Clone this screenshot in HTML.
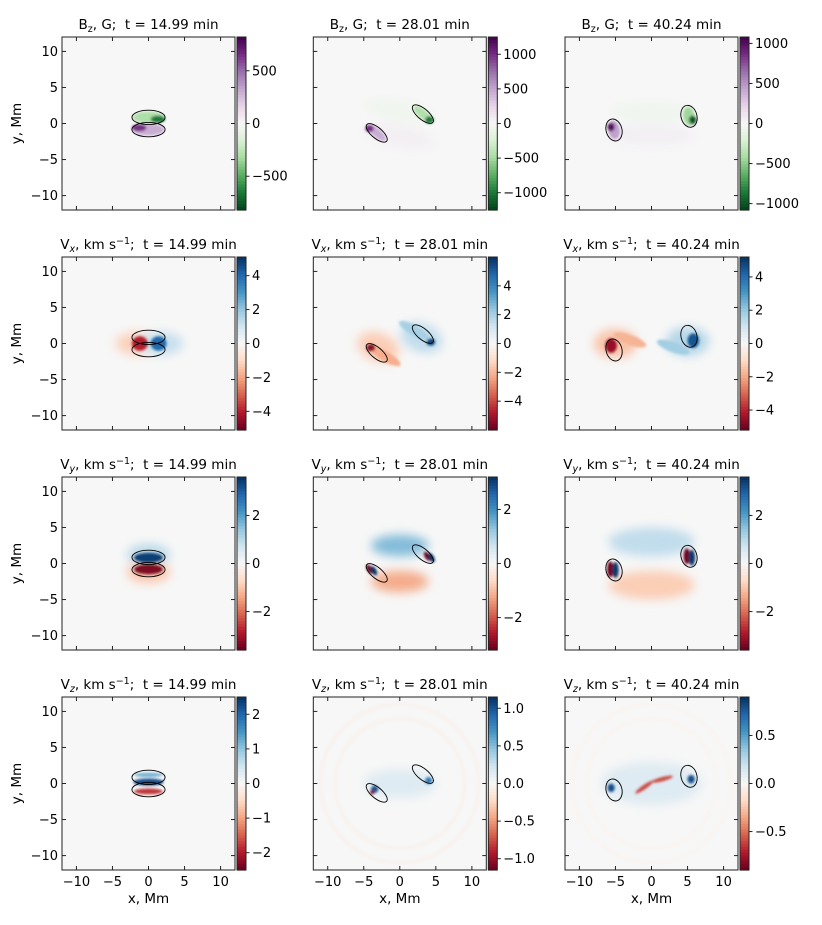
<!DOCTYPE html>
<html><head><meta charset="utf-8"><style>
html,body{margin:0;padding:0;background:#fff}
svg{display:block;font-family:"DejaVu Sans","Liberation Sans",sans-serif}
text{white-space:pre}
</style></head><body>
<svg id="fig" width="822" height="925" viewBox="0 0 822 925" xmlns="http://www.w3.org/2000/svg">
<defs>
<filter id="blurBig" x="-50%" y="-50%" width="200%" height="200%"><feGaussianBlur stdDeviation="5"/></filter>
<filter id="blurSmall" x="-50%" y="-50%" width="200%" height="200%"><feGaussianBlur stdDeviation="1.3"/></filter>
</defs>
</svg>
<script>
// ---- data ----
const colLefts=[62,313.3,565];
const rowTops=[37,257,477,697];
const times=["14.99","28.01","40.24"];
const rowVars=["Bz","Vx","Vy","Vz"];
const axisTicks=[-10,-5,0,5,10];
const cbarRanges=[[820,1250,1080],[5.1,6.0,5.2],[3.6,3.2,3.6],[2.5,1.15,0.9]];
const cbarTicks=[
 [[500,0,-500],[1000,500,0,-500,-1000],[1000,500,0,-500,-1000]],
 [[4,2,0,-2,-4],[4,2,0,-2,-4],[4,2,0,-2,-4]],
 [[2,0,-2],[2,0,-2],[2,0,-2]],
 [[2,1,0,-1,-2],[1.0,0.5,0.0,-0.5,-1.0],[0.5,0.0,-0.5]]];
const cbarTickLabels=[
 [["500","0","\u2212500"],["1000","500","0","\u2212500","\u22121000"],["1000","500","0","\u2212500","\u22121000"]],
 [["4","2","0","\u22122","\u22124"],["4","2","0","\u22122","\u22124"],["4","2","0","\u22122","\u22124"]],
 [["2","0","\u22122"],["2","0","\u22122"],["2","0","\u22122"]],
 [["2","1","0","\u22121","\u22122"],["1.0","0.5","0.0","\u22120.5","\u22121.0"],["0.5","0.0","\u22120.5"]]];
// blobs: [x, y, rx, ry, rotDeg, value] in data units
const blobs=[
 [[[0,0.85,2.2,0.8,0,-300],[1.3,0.6,1.0,0.5,0,-650],[0,-0.85,2.2,0.8,0,300],[-1.3,-0.6,1.0,0.5,0,650]],
  [[0,1.8,5,1.5,-10,-60],[0,-1.8,5,1.5,-10,60],[3.2,1.3,1.6,0.6,-40,-450],[4.1,0.5,0.6,0.5,0,-1000],[-3.2,-1.3,1.6,0.6,-40,450],[-4.2,-0.7,0.6,0.5,0,1000]],
  [[0,1.6,6,1.5,0,-50],[0,-1.6,6,1.5,0,50],[5.2,1.0,0.8,1.3,10,-450],[5.7,0.5,0.5,0.6,0,-1000],[-5.2,-0.9,0.8,1.3,10,450],[-5.6,-0.5,0.5,0.6,0,1000]]],
 [[[-1.6,0,3,1.6,0,-1.2],[1.8,0,3,1.6,0,1.2],[-1.2,0,1.1,1.0,0,-4],[1.4,0,1.1,1.0,0,4]],
  [[-3,-0.5,3,2,-20,-1.5],[3,0.8,3,2,-20,1.5],[-2,-1.8,2.4,0.7,-30,-2.2],[2,1.8,2.4,0.7,-30,2.0],[-4,-0.6,0.6,0.5,0,-5.5],[4.3,0.2,0.6,0.5,0,5.5]],
  [[-5,0,3,2,0,-1.5],[5,0.3,3,2,0,1.5],[-3,0.5,2.4,0.7,-20,-1.8],[3,-0.5,2.4,0.7,-20,1.8],[-5.6,-0.3,0.8,1,0,-4.5],[5.8,0.4,0.8,1,0,4.5]]],
 [[[0,1.2,3,1.5,0,1],[0,-1.2,3,1.5,0,-1],[0,0.8,2.0,0.7,0,3.4],[0,-0.8,2.0,0.7,0,-3.4]],
  [[0,2.5,4,1.5,0,1.4],[0,-2.5,4,1.5,0,-1.2],[-4.2,-0.8,0.35,0.7,30,-3.5],[-3.6,-1.0,0.35,0.7,30,3.5],[3.8,1,0.35,0.7,30,-3.5],[4.4,0.8,0.35,0.7,30,3.5]],
  [[0,3,6,2,0,0.9],[0,-3,6,2,0,-0.9],[-5.7,-0.8,0.45,1.1,0,-3.5],[-5.0,-0.9,0.45,1.1,0,3.5],[4.9,1,0.45,1.1,0,-3.5],[5.6,0.8,0.45,1.1,0,3.5]]],
 [[[0,0.2,2.1,0.5,0,2.2],[0,-1.1,2.0,0.4,0,-1.8],[0,1.2,2,0.3,0,1.2]],
  [[0,0,5,2,0,0.15],[-3.5,-0.8,0.5,0.5,0,1.0],[4,0.4,0.5,0.5,0,0.8],[-3.8,-1.2,0.3,0.3,0,-1.1]],
  [[0,0,7,3,0,0.12],[-5.6,-0.6,0.5,0.6,0,0.8],[5.5,0.6,0.5,0.6,0,0.8],[-1,-0.5,1.5,0.3,35,-0.6],[1.5,0.6,1.5,0.3,15,-0.6]]]];
// contours per column: [x, y, rx, ry, rotDeg]
const contours=[
 [[0,0.85,2.3,1.0,0],[0,-0.85,2.3,1.0,0]],
 [[3.2,1.3,1.8,0.75,-40],[-3.2,-1.3,1.8,0.75,-40]],
 [[5.2,1.0,1.1,1.55,15],[-5.2,-0.9,1.1,1.55,15]]];

const RdBu=["#67001f","#b2182b","#d6604d","#f4a582","#fddbc7","#f7f7f7","#d1e5f0","#92c5de","#4393c3","#2166ac","#053061"];
const PRGn_r=["#00441b","#1b7837","#5aae61","#a6dba0","#d9f0d3","#f7f7f7","#e7d4e8","#c2a5cf","#9970ab","#762a83","#40004b"];
const S=173, CBW=9, EXT=12;
const NS="http://www.w3.org/2000/svg";
const svg=document.getElementById('fig');
function mk(tag,attrs,parent){const e=document.createElementNS(NS,tag);for(const k in attrs)e.setAttribute(k,attrs[k]);(parent||svg).appendChild(e);return e;}
function hex(h){return[parseInt(h.substr(1,2),16),parseInt(h.substr(3,2),16),parseInt(h.substr(5,2),16)];}
function cmap(stops,t){t=Math.max(0,Math.min(1,t));const f=t*(stops.length-1);const i=Math.min(stops.length-2,Math.floor(f));const u=f-i;const a=hex(stops[i]),b=hex(stops[i+1]);return`rgb(${a.map((v,k)=>Math.round(v+(b[k]-v)*u)).join(',')})`;}

rowVars.forEach((v,r)=>{
 colLefts.forEach((L,c)=>{
  const T=rowTops[r];
  const sx=x=>L+(x+EXT)/(2*EXT)*S;
  const sy=y=>T+(EXT-y)/(2*EXT)*S;
  const k=S/(2*EXT);
  const stops=r===0?PRGn_r:RdBu;
  const R=cbarRanges[r][c];
  const col=val=>cmap(stops,(val+R)/(2*R));
  const g=mk('g',{});
  
  
  const cp=mk('clipPath',{id:`cp${r}${c}`},g);
  mk('rect',{x:L,y:T,width:S,height:S},cp);
  const hm=mk('g',{'clip-path':`url(#cp${r}${c})`},g);
  
  
  mk('rect',{x:L,y:T,width:S,height:S,fill:'#f7f7f7'},hm);
  if(r===3&&c>0){for(const rad of [9,11]){const ring=mk('circle',{cx:sx(0),cy:sy(0),r:rad*k,fill:'none',stroke:col(c===1?-0.04:-0.02),'stroke-width':4,filter:'url(#blurSmall)'},hm);}}
  const big=mk('g',{filter:'url(#blurBig)'},hm), small=mk('g',{filter:'url(#blurSmall)'},hm);
  blobs[r][c].forEach(b=>{
   const [x,y,rx,ry,rot,val]=b;
   const e=mk('ellipse',{cx:sx(x),cy:sy(y),rx:rx*k,ry:ry*k,transform:`rotate(${-rot} ${sx(x)} ${sy(y)})`,fill:col(val)},(rx>=2.6||ry>=1.4)?big:small);
   
   
  });
  contours[c].forEach(cn=>{
   const [x,y,rx,ry,rot]=cn;
   const e=mk('ellipse',{cx:sx(x),cy:sy(y),rx:rx*k,ry:ry*k,transform:`rotate(${-rot} ${sx(x)} ${sy(y)})`,fill:'none',stroke:'#000','stroke-width':0.9},hm);
   
   
  });
  const fr=mk('rect',{x:L,y:T,width:S,height:S,fill:'none',stroke:'#222','stroke-width':1},g);
  
  
  axisTicks.forEach(t=>{
   const X=sx(t),Y=sy(t);
   mk('line',{x1:X,y1:T+S,x2:X,y2:T+S-4,stroke:'#222'},g);
   mk('line',{x1:X,y1:T,x2:X,y2:T+4,stroke:'#222'},g);
   mk('line',{x1:L,y1:Y,x2:L+4,y2:Y,stroke:'#222'},g);
   mk('line',{x1:L+S,y1:Y,x2:L+S-4,y2:Y,stroke:'#222'},g);
   const lab=t<0?'\u2212'+(-t):String(t);
   if(c===0){const tx=mk('text',{x:L-4,y:Y+4.5,'text-anchor':'end','font-size':13},g);tx.textContent=lab;}
   if(r===3){const tx=mk('text',{x:X,y:T+S+16,'text-anchor':'middle','font-size':13},g);tx.textContent=lab;}
  });
  const tt=mk('text',{x:L+S/2,y:T-8,'text-anchor':'middle','font-size':13.5},g);
  
  
  const sub=v==='Bz'?'z':v[1];
  const a=mk('tspan',{},tt);a.textContent=v[0];
  const b=mk('tspan',{'font-size':9.5,dy:3,'font-style':v==='Bz'?'normal':'italic'},tt);b.textContent=sub;
  if(v==='Bz'){const d=mk('tspan',{dy:-3},tt);d.textContent=', G;\u00a0\u00a0t = '+times[c]+' min';}
  else{const d=mk('tspan',{dy:-3},tt);d.textContent=', km s';const e=mk('tspan',{'font-size':9.5,dy:-5},tt);e.textContent='\u22121';const f=mk('tspan',{dy:5},tt);f.textContent=';\u00a0\u00a0t = '+times[c]+' min';}
  const cx=L+S+2;
  const cb=mk('g',{},g);
  
  
  const N=60;
  for(let i=0;i<N;i++){mk('rect',{x:cx,y:T+i*S/N,width:CBW,height:S/N+0.6,fill:col(R-(i+0.5)/N*2*R)},cb);}
  mk('rect',{x:cx,y:T,width:CBW,height:S,fill:'none',stroke:'#222','stroke-width':1},cb);
  cbarTicks[r][c].forEach((t,i)=>{
   const Y=T+S/2-t/R*S/2;
   mk('line',{x1:cx+CBW,y1:Y,x2:cx+CBW+3.5,y2:Y,stroke:'#222'},cb);
   const tx=mk('text',{x:cx+CBW+6,y:Y+4.5,'font-size':13},cb);
   tx.textContent=cbarTickLabels[r][c][i];
   
   
  });
 });
 const yl=mk('text',{x:0,y:0,'font-size':13.5,'text-anchor':'middle',transform:`translate(21 ${rowTops[r]+S/2}) rotate(-90)`});
 yl.textContent='y, Mm';
 
 
});
colLefts.forEach(L=>{
 const xl=mk('text',{x:L+S/2,y:rowTops[3]+S+33,'font-size':13.5,'text-anchor':'middle'});
 xl.textContent='x, Mm';
 
 
});
</script>
</body></html>
